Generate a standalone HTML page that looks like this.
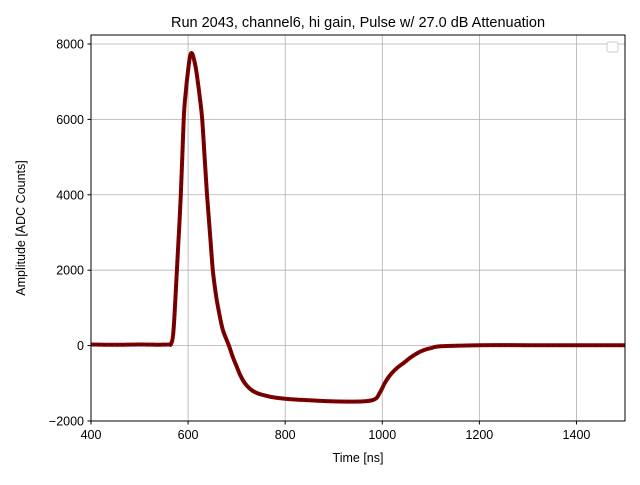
<!DOCTYPE html>
<html><head><meta charset="utf-8"><style>
body{margin:0;background:#fff;}
svg text{font-family:"Liberation Sans","DejaVu Sans",sans-serif;}
</style></head><body>
<svg id="chart" width="640" height="480" viewBox="0 0 640 480" xmlns="http://www.w3.org/2000/svg">
<rect width="640" height="480" fill="#fff"/>
<g id="grid"></g>
<g id="series"></g>
<rect x="91" y="35" width="534" height="386" fill="none" stroke="#000" stroke-width="1"/>
<g id="ticks"></g>
<text x="358" y="27" text-anchor="middle" font-size="14.5">Run 2043, channel6, hi gain, Pulse w/ 27.0 dB Attenuation</text>
<text x="358" y="462" text-anchor="middle" font-size="12.5">Time [ns]</text>
<text transform="translate(25,228) rotate(-90)" text-anchor="middle" font-size="12.5">Amplitude [ADC Counts]</text>
<rect x="607" y="42" width="11" height="10" rx="2" fill="#fff" stroke="#ccc"/>
</svg>
<script>
const times=[400,450,500,540,560,565,570,577,585,591,595,600,603,606,609,612,616,620,624,629,634,639,645,651,658,665,672,684,692,700,708,717,728,740,760,780,820,850,900,960,985,995,1005,1015,1030,1045,1060,1075,1090,1100,1120,1200,1300,1400,1500];
const amps=[30,20,30,25,30,50,400,2000,4000,6000,6700,7300,7600,7750,7730,7600,7350,7000,6600,6000,5000,4000,3000,2000,1300,800,400,0,-300,-550,-800,-1000,-1150,-1250,-1330,-1380,-1430,-1450,-1480,-1480,-1420,-1250,-1000,-800,-600,-450,-300,-180,-100,-70,-20,10,10,10,10];
const xTicks=[400,600,800,1000,1200,1400];
const yTicks=[-2000,0,2000,4000,6000,8000];
const X0=91,X1=625,Y0=35,Y1=421,xmin=400,xmax=1500,ymin=-2000,ymax=8238;
const sx=v=>X0+(v-xmin)/(xmax-xmin)*(X1-X0);
const sy=v=>Y1-(v-ymin)/(ymax-ymin)*(Y1-Y0);
const NS="http://www.w3.org/2000/svg";
const grid=document.getElementById('grid'),ticks=document.getElementById('ticks'),ser=document.getElementById('series');
function mk(t,a,p){const e=document.createElementNS(NS,t);for(const k in a)e.setAttribute(k,a[k]);p.appendChild(e);return e;}
xTicks.forEach(v=>{const x=sx(v);
 const g=mk('line',{x1:x,x2:x,y1:Y0,y2:Y1,stroke:'#b0b0b0','stroke-width':0.8},grid);
 
 
 const t=mk('line',{x1:x,x2:x,y1:Y1,y2:Y1+3.5,stroke:'#000'},ticks);
 
 
 const l=mk('text',{x:x,y:Y1+18,'text-anchor':'middle','font-size':12.5},ticks);l.textContent=v;
 
 
});
yTicks.forEach(v=>{const y=sy(v);
 const g=mk('line',{x1:X0,x2:X1,y1:y,y2:y,stroke:'#b0b0b0','stroke-width':0.8},grid);
 
 
 const t=mk('line',{x1:X0-3.5,x2:X0,y1:y,y2:y,stroke:'#000'},ticks);
 
 
 const l=mk('text',{x:X0-7,y:y+4.5,'text-anchor':'end','font-size':12.5},ticks);l.textContent=v===-2000?'\u22122000':v;
 
 
});
const pts=times.map((t,i)=>[sx(t),sy(amps[i])]);
let d='M'+pts[0][0].toFixed(1)+','+pts[0][1].toFixed(1);
for(let i=0;i<pts.length-1;i++){
 const p0=pts[Math.max(0,i-1)],p1=pts[i],p2=pts[i+1],p3=pts[Math.min(pts.length-1,i+2)];
 const c1=[p1[0]+(p2[0]-p0[0])/6,p1[1]+(p2[1]-p0[1])/6];
 const c2=[p2[0]-(p3[0]-p1[0])/6,p2[1]-(p3[1]-p1[1])/6];
 d+=' C'+c1.map(n=>n.toFixed(1)).join(',')+' '+c2.map(n=>n.toFixed(1)).join(',')+' '+p2.map(n=>n.toFixed(1)).join(',');
}
const p=mk('path',{d:d,fill:'none',stroke:'#800000','stroke-width':4,'stroke-linejoin':'round'},ser);


const p2=mk('path',{d:d,fill:'none',stroke:'#5a0000','stroke-width':1.2,'stroke-dasharray':'4 2'},ser);


</script>
</body></html>
